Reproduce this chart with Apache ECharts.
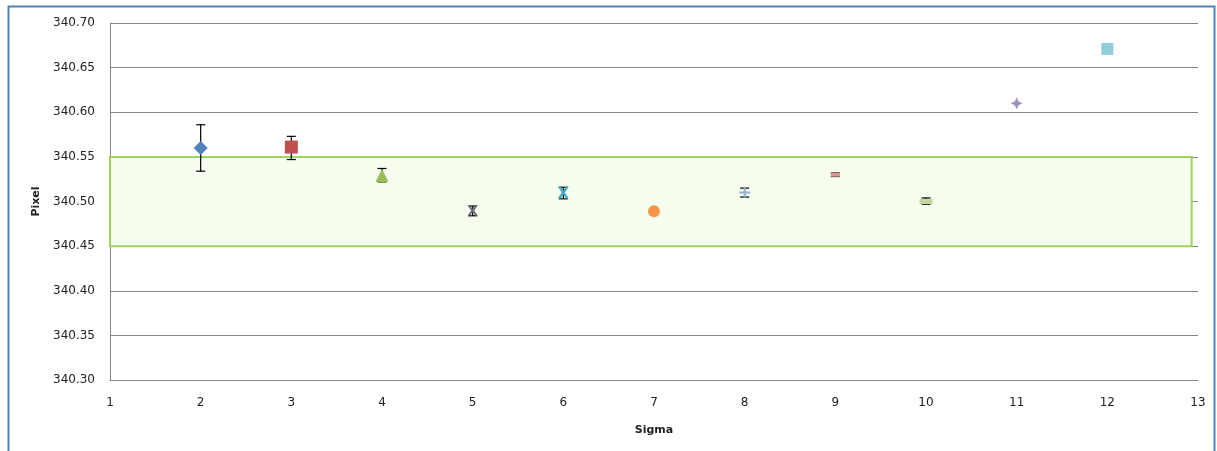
<!DOCTYPE html>
<html>
<head>
<meta charset="utf-8">
<script src="https://cdn.jsdelivr.net/npm/echarts@6/dist/echarts.min.js"></script>
<style>
html,body{margin:0;padding:0;background:#fff;}
#chart{width:1217px;height:451px;}
</style>
</head>
<body>
<div id="chart"></div>
<script>
// ---- data ----
var sigma = [2, 3, 4, 5, 6, 7, 8, 9, 10, 11, 12];
var pixel = [340.560, 340.561, 340.529, 340.490, 340.510, 340.489, 340.510, 340.530, 340.500, 340.610, 340.671];
var errLow  = [340.534, 340.547, 340.522, 340.484, 340.503, null, 340.505, 340.528, 340.497, null, null];
var errHigh = [340.586, 340.573, 340.537, 340.495, 340.516, null, 340.515, 340.532, 340.504, null, null];
var bandLow = 340.45, bandHigh = 340.55;
var bandXStart = 1, bandXEnd = 12.93;
var xTicks = [1, 2, 3, 4, 5, 6, 7, 8, 9, 10, 11, 12, 13];
var yTicks = [340.30, 340.35, 340.40, 340.45, 340.50, 340.55, 340.60, 340.65, 340.70];

// ---- styles per point ----
var markerColors = ['#4F81BD', '#C0504D', '#9BBB59', '#6E6E7A', '#4BACC6', '#F79646', '#95B3D7', '#D99694', '#C3D69B', '#A091C2', '#93CDDD'];
var X_PATH = 'path://M0,0L2.5,0L5,3.5L7.5,0L10,0L6.5,5L10,10L7.5,10L5,6.5L2.5,10L0,10L3.5,5Z';
var PLUS_PATH = 'path://M4,0H6V4H10V6H6V10H4V6H0V4H4Z';
var DASH_PATH = 'path://M0,0H10V3H0Z';
var STAR_PATH = 'path://M5,0L6.6,3.4L10,5L6.6,6.6L5,10L3.4,6.6L0,5L3.4,3.4Z';
var markerSymbols = ['diamond', 'rect', 'triangle', X_PATH, X_PATH, 'circle', PLUS_PATH, DASH_PATH, DASH_PATH, STAR_PATH, 'rect'];
var markerSizes = [14, 13, 13, [10, 10], [11, 12], 12, [11, 10], [9, 4], [13, 5], [12, 12], 12];

var series = [];
// green band
series.push({
  type: 'line', data: [], silent: true,
  markArea: {
    silent: true,
    itemStyle: { color: '#F5FDEF', borderColor: '#9ED35F', borderWidth: 2 },
    data: [[{ xAxis: bandXStart, yAxis: bandLow }, { xAxis: bandXEnd, yAxis: bandHigh }]]
  },
  z: 1
});
// error bars
var errData = [];
for (var i = 0; i < sigma.length; i++) {
  if (errLow[i] != null) errData.push([sigma[i], errLow[i], errHigh[i]]);
}
series.push({
  type: 'custom', z: 3,
  data: errData,
  encode: { x: 0, y: [1, 2] },
  renderItem: function (params, api) {
    var x = api.value(0);
    var lo = api.coord([x, api.value(1)]);
    var hi = api.coord([x, api.value(2)]);
    var cap = 4.5;
    var st = { stroke: '#000', lineWidth: 1.2 };
    return {
      type: 'group',
      children: [
        { type: 'line', shape: { x1: lo[0], y1: lo[1], x2: hi[0], y2: hi[1] }, style: st },
        { type: 'line', shape: { x1: lo[0] - cap, y1: lo[1], x2: lo[0] + cap, y2: lo[1] }, style: st },
        { type: 'line', shape: { x1: hi[0] - cap, y1: hi[1], x2: hi[0] + cap, y2: hi[1] }, style: st }
      ]
    };
  }
});
// markers
for (var j = 0; j < sigma.length; j++) {
  series.push({
    type: 'scatter', z: 4,
    name: 'Sigma ' + sigma[j],
    data: [[sigma[j], pixel[j]]],
    symbol: markerSymbols[j],
    symbolSize: markerSizes[j],
    itemStyle: { color: markerColors[j], opacity: 1 },
    emphasis: { disabled: true }
  });
}

var chart = echarts.init(document.getElementById('chart'), null, { renderer: 'canvas' });
chart.setOption({
  animation: false,
  backgroundColor: '#fff',
  textStyle: { fontFamily: 'DejaVu Sans' },
  grid: { left: 110, right: 19, top: 23, bottom: 71, containLabel: false },
  graphic: [{
    type: 'rect', left: 6, top: 4,
    shape: { width: 1206, height: 460 },
    style: { fill: null, stroke: '#4F81BD', lineWidth: 2 },
    z: 0
  }],
  xAxis: {
    type: 'value', min: xTicks[0], max: xTicks[xTicks.length - 1], interval: 1,
    name: 'Sigma', nameLocation: 'middle', nameGap: 45,
    nameTextStyle: { fontWeight: 'bold', fontSize: 11, color: '#222' },
    axisLine: { show: true, lineStyle: { color: '#868686', width: 1 } },
    axisTick: { show: false },
    axisLabel: { color: '#222', fontSize: 12, margin: 17 },
    splitLine: { show: false }
  },
  yAxis: {
    type: 'value', min: yTicks[0], max: yTicks[yTicks.length - 1], interval: 0.05,
    name: 'Pixel', nameLocation: 'middle', nameGap: 66,
    nameTextStyle: { fontWeight: 'bold', fontSize: 11, color: '#222' },
    axisLine: { show: true, lineStyle: { color: '#868686', width: 1 } },
    axisTick: { show: false },
    axisLabel: { color: '#222', fontSize: 12, margin: 15, formatter: function (v) { return v.toFixed(2); } },
    splitLine: { show: true, lineStyle: { color: '#868686', width: 1 } }
  },
  series: series
});
</script>
</body>
</html>
